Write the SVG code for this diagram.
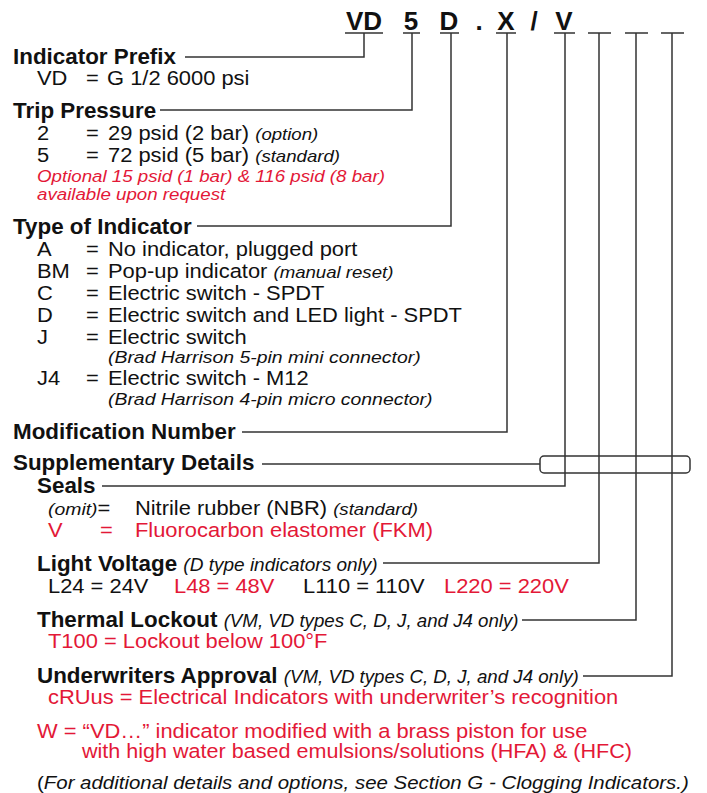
<svg xmlns="http://www.w3.org/2000/svg" width="707" height="793" viewBox="0 0 707 793">
<style>
text{font-family:"Liberation Sans",Arial,sans-serif;fill:#111}
.h{font-weight:bold;font-size:22.4px}
.r{font-size:19.3px}
.i{font-style:italic;font-size:16.4px;font-weight:normal}
.hi{font-style:italic;font-size:18.7px;font-weight:normal}
.b{font-style:italic;font-size:17.1px}
.ri{font-style:italic;font-size:16.5px;fill:#e31837}
.red{fill:#e31837}
.note{font-size:18px}
.code{font-weight:bold;font-size:26px;text-anchor:middle}
.ln{stroke:#333;stroke-width:1.5;fill:none}
</style>
<rect width="707" height="793" fill="#fff"/>
<g id="code">
<text class="code" x="364" y="30">VD</text>
<text class="code" x="411" y="30">5</text>
<text class="code" x="449" y="30">D</text>
<text class="code" x="479" y="30">.</text>
<text class="code" x="506" y="30">X</text>
<text class="code" x="534" y="30">/</text>
<text class="code" x="564" y="30">V</text>
</g>
<g id="connectors" class="ln">
<path d="M345 33H383M403 33H420M440 33H459M496 33H516M554 33H575M588 33H611M625 33H648M661 33H684"/>
<path d="M364 33V57H185"/>
<path d="M412 33V110H160"/>
<path d="M451 33V226H197"/>
<path d="M507 33V432H242"/>
<path d="M565 33V486H102"/>
<path d="M599 33V563H383"/>
<path d="M636 33V620H522"/>
<path d="M672 33V676H583"/>
<path d="M262 464H540"/>
<rect x="540" y="456" width="150" height="17" rx="4"/>
</g>
<g id="prefix">
<text class="h" x="13" y="64">Indicator Prefix</text>
<g transform="scale(1.135 1)">
<text class="r" x="32.6" y="85">VD</text><text class="r" x="75.8" y="85">=</text><text class="r" x="94.3" y="85">G 1/2 6000 psi</text>
</g>
</g>
<g id="trip">
<text class="h" x="13" y="118">Trip Pressure</text>
<g transform="scale(1.135 1)">
<text class="r" x="32.6" y="140">2</text><text class="r" x="75.8" y="140">=</text><text class="r" x="95.15" y="140">29 psid (2 bar) <tspan class="i">(option)</tspan></text>
<text class="r" x="32.6" y="162">5</text><text class="r" x="75.8" y="162">=</text><text class="r" x="95.15" y="162">72 psid (5 bar) <tspan class="i">(standard)</tspan></text>
<text class="ri" x="32.6" y="182">Optional 15 psid (1 bar) &amp; 116 psid (8 bar)</text>
<text class="ri" x="32.6" y="200">available upon request</text>
</g>
</g>
<g id="type">
<text class="h" x="13" y="234">Type of Indicator</text>
<g transform="scale(1.135 1)">
<text class="r" x="32.6" y="256">A</text><text class="r" x="75.8" y="256">=</text><text class="r" x="95.15" y="256">No indicator, plugged port</text>
<text class="r" x="32.6" y="278">BM</text><text class="r" x="75.8" y="278">=</text><text class="r" x="95.15" y="278">Pop-up indicator <tspan class="i">(manual reset)</tspan></text>
<text class="r" x="32.6" y="300">C</text><text class="r" x="75.8" y="300">=</text><text class="r" x="95.15" y="300">Electric switch - SPDT</text>
<text class="r" x="32.6" y="322">D</text><text class="r" x="75.8" y="322">=</text><text class="r" x="95.15" y="322">Electric switch and LED light - SPDT</text>
<text class="r" x="32.6" y="344">J</text><text class="r" x="75.8" y="344">=</text><text class="r" x="95.15" y="344">Electric switch</text>
<text class="b" x="95.15" y="363">(Brad Harrison 5-pin mini connector)</text>
<text class="r" x="32.6" y="385">J4</text><text class="r" x="75.8" y="385">=</text><text class="r" x="95.15" y="385">Electric switch - M12</text>
<text class="b" x="95.15" y="405">(Brad Harrison 4-pin micro connector)</text>
</g>
</g>
<g id="mod">
<text class="h" x="13" y="439">Modification Number</text>
</g>
<g id="supp">
<text class="h" x="13" y="470">Supplementary Details</text>
</g>
<g id="seals">
<text class="h" x="37" y="493">Seals</text>
<g transform="scale(1.135 1)">
<text class="r" x="42.3" y="515"><tspan class="b">(omit)</tspan>=</text><text class="r" x="118.9" y="515">Nitrile rubber (NBR) <tspan class="i">(standard)</tspan></text>
<text class="r red" x="42.3" y="537">V</text><text class="r red" x="88.1" y="537">=</text><text class="r red" x="118.9" y="537">Fluorocarbon elastomer (FKM)</text>
</g>
</g>
<g id="light">
<text class="h" x="37" y="571">Light Voltage <tspan class="hi" style="font-size:19px">(D type indicators only)</tspan></text>
<g transform="scale(1.135 1)">
<text class="r" x="42.3" y="593">L24 = 24V</text>
<text class="r red" x="153.3" y="593">L48 = 48V</text>
<text class="r" x="267" y="593">L110 = 110V</text>
<text class="r red" x="391.2" y="593">L220 = 220V</text>
</g>
</g>
<g id="thermal">
<text class="h" x="37" y="627">Thermal Lockout <tspan class="hi">(VM, VD types C, D, J, and J4 only)</tspan></text>
<g transform="scale(1.135 1)">
<text class="r red" x="42.3" y="648">T100 = Lockout below 100°F</text>
</g>
</g>
<g id="ul">
<text class="h" x="37" y="683">Underwriters Approval <tspan class="hi">(VM, VD types C, D, J, and J4 only)</tspan></text>
<g transform="scale(1.135 1)">
<text class="r red" x="42.3" y="704">cRUus = Electrical Indicators with underwriter’s recognition</text>
</g>
</g>
<g id="w">
<g transform="scale(1.135 1)">
<text class="r red" x="32.6" y="738">W = “VD…” indicator modified with a brass piston for use</text>
<text class="r red" x="72.2" y="758" textLength="484.6" lengthAdjust="spacingAndGlyphs">with high water based emulsions/solutions (HFA) &amp; (HFC)</text>
</g>
</g>
<g id="note">
<g transform="scale(1.135 1)">
<text class="note" x="32.6" y="789">(<tspan font-style="italic">For additional details and options, see Section G - Clogging Indicators.)</tspan></text>
</g>
</g>
</svg>
